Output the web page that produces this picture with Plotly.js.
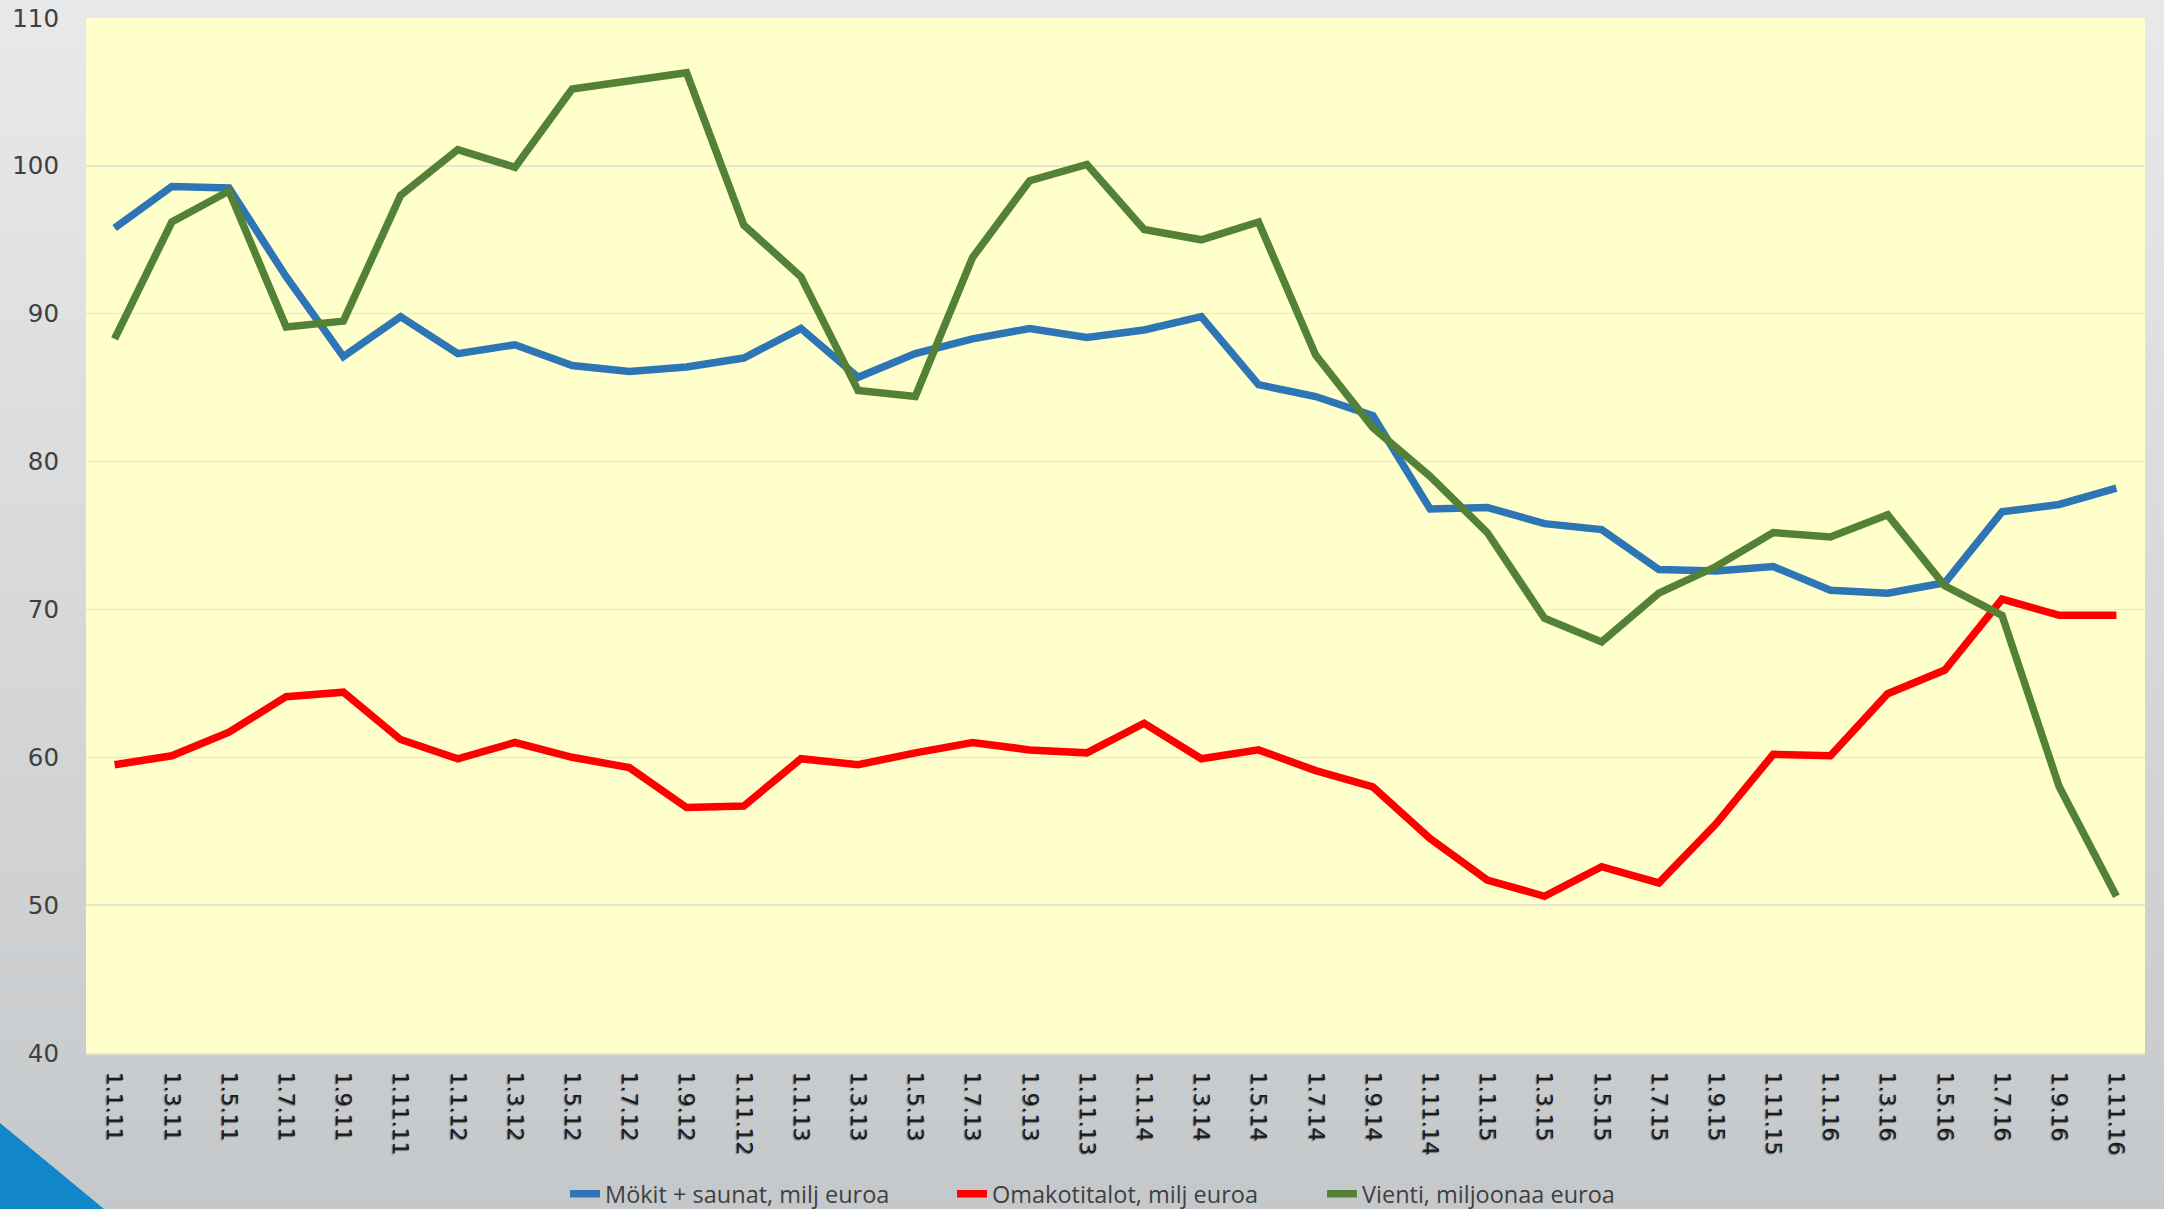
<!DOCTYPE html>
<html>
<head>
<meta charset="utf-8">
<script src="https://cdn.plot.ly/plotly-3.0.1.min.js"></script>
<style>
  html, body { margin: 0; padding: 0; width: 2164px; height: 1209px; overflow: hidden; }
  body { background: linear-gradient(to bottom, #e8e9ea 0%, #d9dadc 45%, #c5c8ca 100%); position: relative; }
  #corner { position: absolute; left: 0; top: 1123px; width: 104px; height: 86px; background: #1287c8; clip-path: polygon(0 0, 100% 100%, 0 100%); }
  #chart { position: absolute; left: 0; top: 0; width: 2164px; height: 1209px; }
</style>
</head>
<body>
<div id="corner"></div>
<div id="chart"></div>
<script>
const categories = [
  "1.1.11","1.3.11","1.5.11","1.7.11","1.9.11","1.11.11",
  "1.1.12","1.3.12","1.5.12","1.7.12","1.9.12","1.11.12",
  "1.1.13","1.3.13","1.5.13","1.7.13","1.9.13","1.11.13",
  "1.1.14","1.3.14","1.5.14","1.7.14","1.9.14","1.11.14",
  "1.1.15","1.3.15","1.5.15","1.7.15","1.9.15","1.11.15",
  "1.1.16","1.3.16","1.5.16","1.7.16","1.9.16","1.11.16"
];
const mokit = [
  95.8, 98.6, 98.5, 92.5, 87.1, 89.8,
  87.3, 87.9, 86.5, 86.1, 86.4, 87.0,
  89.0, 85.7, 87.3, 88.3, 89.0, 88.4,
  88.9, 89.8, 85.2, 84.4, 83.1, 76.8,
  76.9, 75.8, 75.4, 72.7, 72.6, 72.9,
  71.3, 71.1, 71.8, 76.6, 77.1, 78.2
];
const omakotitalot = [
  59.5, 60.1, 61.7, 64.1, 64.4, 61.2,
  59.9, 61.0, 60.0, 59.3, 56.6, 56.7,
  59.9, 59.5, 60.3, 61.0, 60.5, 60.3,
  62.3, 59.9, 60.5, 59.1, 58.0, 54.5,
  51.7, 50.6, 52.6, 51.5, 55.5, 60.2,
  60.1, 64.3, 65.9, 70.7, 69.6, 69.6
];
const vienti = [
  88.3, 96.2, 98.3, 89.1, 89.5, 98.0,
  101.1, 99.9, 105.2, 105.7, 106.3, 96.0,
  92.5, 84.8, 84.4, 93.8, 99.0, 100.1,
  95.7, 95.0, 96.2, 87.2, 82.3, 79.0,
  75.2, 69.4, 67.8, 71.1, 72.9, 75.2,
  74.9, 76.4, 71.6, 69.6, 58.0, 50.6
];
const seriesNames = ["Mökit + saunat, milj euroa", "Omakotitalot, milj euroa", "Vienti, miljoonaa euroa"];
const yTicks = [40, 50, 60, 70, 80, 90, 100, 110];

const mk = (y, name, color, leg) => ({
  type: "scatter", mode: "lines", x: categories, y: y, name: name, legend: leg,
  line: { color: color, width: 7.5, shape: "linear" }
});

const data = [
  mk(mokit, seriesNames[0], "#2e75b6", "legend"),
  mk(omakotitalot, seriesNames[1], "#ff0000", "legend2"),
  mk(vienti, seriesNames[2], "#538135", "legend3")
];

const legFont = { family: "Open Sans, sans-serif", size: 23.5, color: "#404040" };
const legBase = (xpx) => ({
  orientation: "h", xref: "container", yref: "container",
  x: xpx / 2164, xanchor: "left", y: 15 / 1209, yanchor: "middle",
  font: legFont, bgcolor: "rgba(0,0,0,0)", borderwidth: 0
});

const layout = {
  width: 2164, height: 1209,
  margin: { l: 86, r: 19, t: 18, b: 156 },
  paper_bgcolor: "rgba(0,0,0,0)",
  plot_bgcolor: "#ffffcc",
  showlegend: true,
  legend: legBase(565),
  legend2: legBase(952),
  legend3: legBase(1322),
  xaxis: {
    type: "category", range: [-0.5, 35.5], automargin: false,
    tickangle: 90, ticks: "", showgrid: false, zeroline: false,
    showline: true, linecolor: "#e4e4d4", linewidth: 2,
    tickfont: { family: "DejaVu Sans, Verdana, sans-serif", size: 22, color: "#1a1a1a", shadow: "1px 1px 1px #666" },
    ticklabelstandoff: 12
  },
  yaxis: {
    range: [40, 110], tickvals: yTicks, ticktext: yTicks.map(String), automargin: false,
    ticks: "", showgrid: true, gridcolor: "#e6e6d2", gridwidth: 1.5,
    zeroline: false, showline: false,
    tickfont: { family: "DejaVu Sans, Verdana, sans-serif", size: 24.5, color: "#404040" },
    ticklabelstandoff: 26
  }
};

Plotly.newPlot("chart", data, layout, { displayModeBar: false, staticPlot: true });
</script>
</body>
</html>
